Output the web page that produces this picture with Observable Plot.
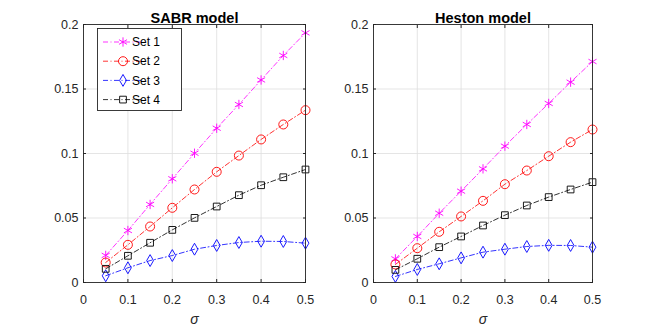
<!DOCTYPE html>
<html><head><meta charset="utf-8">
<script src="https://cdn.jsdelivr.net/npm/d3@7"></script>
<script src="https://cdn.jsdelivr.net/npm/@observablehq/plot@0.6"></script>
<style>
body{margin:0;background:#fff}
#chart{display:flex;width:654px;height:327px;overflow:hidden}
</style>
</head><body><div id="chart"></div>
<script>
const sigma = [0.05, 0.1, 0.15, 0.2, 0.25, 0.3, 0.35, 0.4, 0.45, 0.5];
const setNames = ["Set 1", "Set 2", "Set 3", "Set 4"];
const setColors = ["#ff00ff", "#ff0000", "#0000ff", "#000000"];
const setSymbols = ["asterisk", "circle", "diamond", "square"];

const sabrSet1 = [0.0210, 0.0403, 0.0605, 0.0804, 0.1002, 0.1196, 0.1380, 0.1570, 0.1760, 0.1935];
const sabrSet2 = [0.0155, 0.0292, 0.0434, 0.0579, 0.0721, 0.0858, 0.0984, 0.1109, 0.1225, 0.1336];
const sabrSet3 = [0.0052, 0.0114, 0.0170, 0.0209, 0.0258, 0.0287, 0.0310, 0.0320, 0.0318, 0.0305];
const sabrSet4 = [0.0106, 0.0207, 0.0308, 0.0408, 0.0501, 0.0589, 0.0677, 0.0754, 0.0816, 0.0876];

const hestonSet1 = [0.0183, 0.0357, 0.0537, 0.0708, 0.0881, 0.1057, 0.1225, 0.1388, 0.1553, 0.1713];
const hestonSet2 = [0.0140, 0.0266, 0.0393, 0.0512, 0.0633, 0.0762, 0.0868, 0.0979, 0.1088, 0.1186];
const hestonSet3 = [0.0047, 0.0101, 0.0145, 0.0191, 0.0235, 0.0258, 0.0279, 0.0288, 0.0287, 0.0274];
const hestonSet4 = [0.0098, 0.0184, 0.0274, 0.0357, 0.0442, 0.0522, 0.0597, 0.0662, 0.0721, 0.0778];

const xTicks = [0, 0.1, 0.2, 0.3, 0.4, 0.5];
const yTicks = [0, 0.05, 0.1, 0.15, 0.2];
const titles = ["SABR model", "Heston model"];
const xLabel = "σ";

const symbolR = {asterisk: 4.4, circle: 4.5, diamond: 3.6, square: 3.8};
const dash = "5,2.5,1,2.5";
const axisColor = "#262626";
const fontFam = "'Liberation Sans', Arial, Helvetica, sans-serif";

function panel(title, seriesArrays, margins, withLegend) {
  const marks = [
    Plot.gridX(xTicks, {stroke: "#dedede", strokeOpacity: 1, strokeWidth: 0.8}),
    Plot.gridY(yTicks, {stroke: "#dedede", strokeOpacity: 1, strokeWidth: 0.8}),
    Plot.axisX({ticks: xTicks, tickSize: -3, tickPadding: 16, tickFormat: d => String(d), label: null, stroke: axisColor, color: axisColor, fontSize: 12.5}),
    Plot.axisY({ticks: yTicks, tickSize: -3, tickPadding: 8, tickFormat: d => String(d), label: null, stroke: axisColor, color: axisColor, fontSize: 12.5}),
    Plot.axisX({anchor: "top", ticks: xTicks, tickSize: -3, tickFormat: () => "", label: null, stroke: axisColor}),
    Plot.axisY({anchor: "right", ticks: yTicks, tickSize: -3, tickFormat: () => "", label: null, stroke: axisColor}),
  ];
  seriesArrays.forEach((arr, k) => {
    const rows = sigma.map((s, i) => ({sigma: s, value: arr[i], set: setNames[k]}));
    marks.push(Plot.line(rows, {x: "sigma", y: "value", stroke: setColors[k], strokeWidth: 0.8, strokeDasharray: dash}));
    marks.push(Plot.dot(rows, {x: "sigma", y: "value", symbol: setSymbols[k], r: symbolR[setSymbols[k]], stroke: setColors[k], fill: "none", strokeWidth: 0.9}));
  });
  marks.push(Plot.frame({stroke: axisColor, strokeWidth: 0.9}));
  marks.push(Plot.text([title], {frameAnchor: "top", dy: -12, fontWeight: "bold", fontSize: 14.5, fill: "#000"}));
  marks.push(Plot.text([xLabel], {frameAnchor: "bottom", dy: 41, fontStyle: "italic", fontSize: 14, fill: axisColor}));

  const svg = Plot.plot({
    width: 327, height: 327,
    marginTop: 24, marginBottom: 45, marginLeft: margins[0], marginRight: margins[1],
    x: {domain: [0, 0.5]},
    y: {domain: [0, 0.2]},
    style: {fontFamily: fontFam, fontSize: "12.5px", background: "#fff", overflow: "visible"},
    marks
  });

  if (withLegend) {
    const g = d3.select(svg).append("g");
    g.append("rect").attr("x", 97.5).attr("y", 28.5).attr("width", 84).attr("height", 82)
      .attr("fill", "#fff").attr("stroke", axisColor).attr("stroke-width", 0.9);
    setNames.forEach((name, k) => {
      const y = 42 + 19.2 * k;
      g.append("line").attr("x1", 103).attr("x2", 142).attr("y1", y).attr("y2", y)
        .attr("stroke", setColors[k]).attr("stroke-width", 0.8).attr("stroke-dasharray", dash);
      const sym = {asterisk: d3.symbolAsterisk, circle: d3.symbolCircle, diamond: d3.symbolDiamond, square: d3.symbolSquare}[setSymbols[k]];
      const r = symbolR[setSymbols[k]];
      g.append("path").attr("d", d3.symbol(sym, Math.PI * r * r)()).attr("transform", `translate(123,${y})`)
        .attr("fill", "none").attr("stroke", setColors[k]).attr("stroke-width", 0.9);
      g.append("text").attr("x", 146).attr("y", y).attr("dy", "0.35em").attr("font-size", 12)
        .attr("fill", "#000").text(name);
    });
  }
  return svg;
}

const chart = document.getElementById("chart");
chart.appendChild(panel(titles[0], [sabrSet1, sabrSet2, sabrSet3, sabrSet4], [83, 22], true));
chart.appendChild(panel(titles[1], [hestonSet1, hestonSet2, hestonSet3, hestonSet4], [46, 62], false));
</script>
</body></html>
